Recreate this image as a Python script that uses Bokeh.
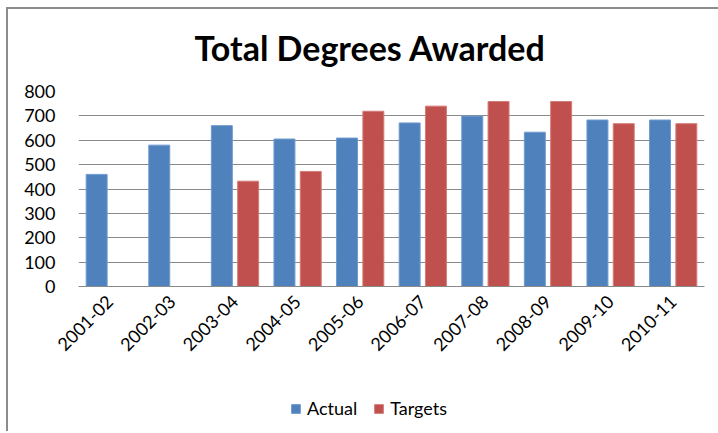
import math
from bokeh.plotting import figure
from bokeh.layouts import column
from bokeh.models import ColumnDataSource, FactorRange, Legend, LegendItem, Range1d
from bokeh.transform import dodge
from bokeh.embed import file_html
from bokeh.resources import INLINE

years = ["2001-02", "2002-03", "2003-04", "2004-05", "2005-06",
         "2006-07", "2007-08", "2008-09", "2009-10", "2010-11"]
actual = [460, 580, 660, 605, 609, 671, 699, 633, 683, 683]
targets = [float("nan"), float("nan"), 432, 472, 719, 740, 759, 759, 668, 668]
y_ticks = [0, 100, 200, 300, 400, 500, 600, 700, 800]
series_names = ["Actual", "Targets"]
series_fields = ["actual", "targets"]
series_colors = ["#4F81BD", "#C0504D"]
edge_colors = ["#6F9BD1", "#D47C79"]
offsets = [-0.21, 0.21]

src = ColumnDataSource(dict(year=years, actual=actual, targets=targets))

W = 712
xr = FactorRange(*years)
p = figure(x_range=xr, y_range=(0, 800),
           width=W, height=359, output_backend="svg", toolbar_location=None,
           min_border_left=72, min_border_right=14, min_border_top=91,
           min_border_bottom=73)

p.title.text = "Total Degrees Awarded"
p.title.align = "left"
p.title.offset = 116
p.title.text_font = "Lato"
p.title.text_font_style = "bold"
p.title.text_font_size = "34px"
p.title.text_color = "#000000"
p.title.standoff = 47

for fld, fc, lc, off in zip(series_fields, series_colors, edge_colors, offsets):
    p.vbar(x=dodge("year", off, range=xr), top=fld, width=0.335,
           source=src, fill_color=fc, line_color=lc, line_width=1)

p.outline_line_color = None
p.background_fill_color = "white"
p.border_fill_alpha = 0

p.xgrid.grid_line_color = None
p.ygrid.grid_line_color = "#8a8a8a"
p.ygrid.grid_line_width = 1
p.yaxis.ticker = y_ticks
p.yaxis.axis_line_color = None
p.yaxis.major_tick_line_color = None
p.yaxis.minor_tick_line_color = None
p.yaxis.major_label_standoff = 17
p.yaxis.major_label_text_font = "Lato"
p.yaxis.major_label_text_font_size = "18px"
p.yaxis.major_label_text_color = "#000000"

p.xaxis.axis_line_color = "#8a8a8a"
p.xaxis.major_tick_line_color = None
p.xaxis.minor_tick_line_color = None
p.xaxis.major_label_orientation = math.pi / 4
p.xaxis.major_label_standoff = 6
p.xaxis.major_label_text_font = "Lato"
p.xaxis.major_label_text_font_size = "18px"
p.xaxis.major_label_text_color = "#000000"

# legend strip below the chart (same series, drawn out of its view)
p2 = figure(x_range=xr, y_range=Range1d(2000, 2100), width=W, height=72,
            output_backend="svg", toolbar_location=None, min_border=0)
p2.outline_line_color = None
p2.axis.visible = False
p2.grid.grid_line_color = None
p2.border_fill_alpha = 0
p2.background_fill_alpha = 0
items = []
for name, fld, fc, lc, off in zip(series_names, series_fields, series_colors,
                                  edge_colors, offsets):
    rr = p2.vbar(x=dodge("year", off, range=xr), top=fld, width=0.335,
                 source=src, fill_color=fc, line_color=lc)
    items.append(LegendItem(label=name, renderers=[rr]))

legend = Legend(items=items, orientation="horizontal", location=(212, 12))
legend.label_text_font = "Lato"
legend.label_text_font_size = "18px"
legend.label_text_color = "#000000"
legend.glyph_width = 11
legend.glyph_height = 11
legend.spacing = 16
legend.label_standoff = 6
legend.padding = 2
legend.margin = 0
legend.border_line_color = None
legend.background_fill_alpha = 0
p2.add_layout(legend, "center")

layout = column(p, p2, spacing=0)
layout.margin = (0, 0, 0, 6)
layout.styles = {
    "background": "linear-gradient(#8c8c8c, #8c8c8c) 0 7px / 100% 2px no-repeat, "
                  "linear-gradient(#8c8c8c, #8c8c8c) 0 7px / 2px 100% no-repeat, #ffffff"
}

open("out.html", "w").write(file_html(layout, INLINE))
